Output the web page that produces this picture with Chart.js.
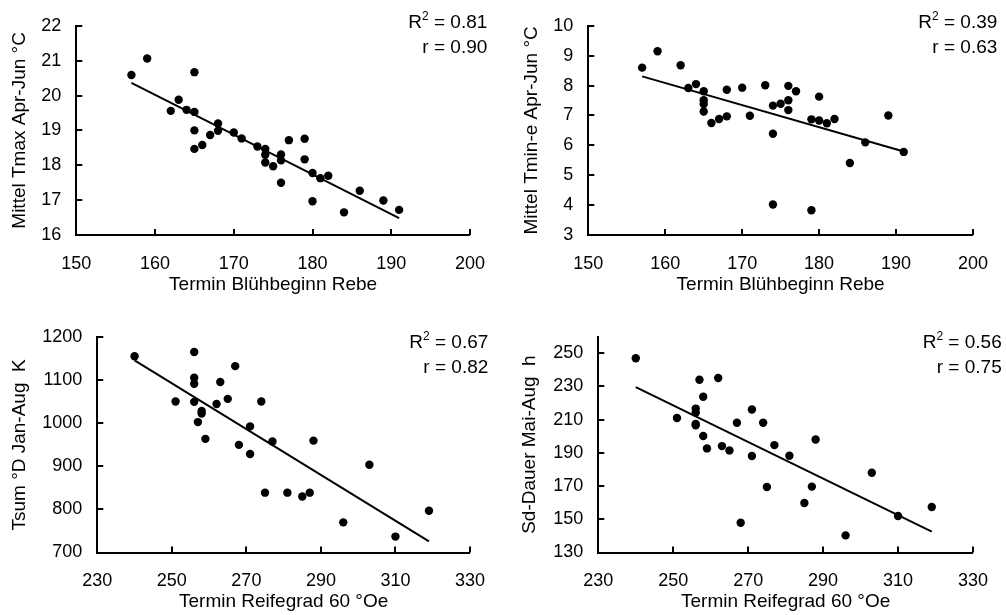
<!DOCTYPE html>
<html>
<head>
<meta charset="utf-8">
<script src="https://cdn.jsdelivr.net/npm/chart.js@4.4.1/dist/chart.umd.min.js"></script>
<style>
  body { margin: 0; background: #fff; }
  #wrap { position: relative; width: 1006px; height: 615px; }
  canvas { position: absolute; }
</style>
</head>
<body>
<div id="wrap">
  <canvas id="c1" width="503" height="308" style="left:0;top:0"></canvas>
  <canvas id="c2" width="503" height="308" style="left:503px;top:0"></canvas>
  <canvas id="c3" width="503" height="307" style="left:0;top:308px"></canvas>
  <canvas id="c4" width="503" height="307" style="left:503px;top:308px"></canvas>
</div>
<script>
// Termin Blühbeginn Rebe (Tag im Jahr) -> Tmax / Tmin-e
const bluehX1 = [157,159,165,163,162,164,165,168,168,165,167,170,171,165,166,173,174,174,174,175,176,176,176,177,179,179,180,180,181,182,184,186,189,191];
const tmaxY = [20.59,21.06,20.67,19.88,19.56,19.59,19.53,19.20,18.99,19.00,18.87,18.94,18.77,18.47,18.58,18.54,18.47,18.30,18.08,17.97,18.31,18.14,17.50,18.72,18.76,18.17,17.78,16.97,17.63,17.70,16.65,17.27,16.99,16.72];

const bluehX2 = [157,159,162,163,164,165,165,165,165,166,167,168,168,170,171,173,174,174,174,175,176,176,176,177,179,179,180,180,181,182,184,186,189,191];
const tminY = [8.60,9.15,8.68,7.92,8.05,7.81,7.51,7.38,7.13,6.75,6.88,7.86,6.97,7.93,6.99,8.01,7.33,6.39,4.02,7.39,7.99,7.51,7.18,7.81,6.87,3.83,7.63,6.83,6.74,6.88,5.41,6.10,7.00,5.78];

// Termin Reifegrad 60 °Oe -> Tsum / Sonnenscheindauer
const reifeX3 = [240,256,256,256,256,251,263,267,265,262,258,258,257,259,268,271,271,274,277,288,275,281,285,287,303,296,310,319];
const tsumY = [1156,1166,1106,1092,1050,1051,1096,1133,1057,1045,1029,1023,1003,964,950,993,929,1051,958,960,839,839,830,839,904,770,737,797];

const reifeX4 = [240,251,256,256,256,256,257,258,258,259,262,263,265,267,268,271,271,274,275,277,281,285,287,288,303,296,310,319];
const sdY = [247,211,216.7,214.3,207.4,206.6,234.1,223.8,200.2,192.7,235.1,194.1,191.5,208.2,147.9,216.1,188.1,208.2,169.5,194.7,188.3,159.8,169.7,198.1,178,140.3,152,157.4];

// Achsenticks
const ticksBlueh = [150,160,170,180,190,200];
const ticksReife = [230,250,270,290,310,330];
const ticksTmax = [16,17,18,19,20,21,22];
const ticksTmin = [3,4,5,6,7,8,9,10];
const ticksTsum = [700,800,900,1000,1100,1200];
const ticksSd = [130,150,170,190,210,230,250];

// Kennwerte
const statsR2 = ['0.81','0.39','0.67','0.56'];
const statsR = ['0.90','0.63','0.82','0.75'];

const FONT = "'Liberation Sans', Arial, sans-serif";

// Regressionsgerade aus den Punkten
function regression(xs, ys) {
    const n = xs.length;
    const mx = xs.reduce((a, b) => a + b, 0) / n;
    const my = ys.reduce((a, b) => a + b, 0) / n;
    let sxy = 0, sxx = 0;
    for (let i = 0; i < n; i++) {
        sxy += (xs[i] - mx) * (ys[i] - my);
        sxx += (xs[i] - mx) * (xs[i] - mx);
    }
    const b = sxy / sxx;
    const a = my - b * mx;
    const x0 = Math.min(...xs), x1 = Math.max(...xs);
    return [{x: x0, y: a + b * x0}, {x: x1, y: a + b * x1}];
}

// Ticks nach innen zeichnen
const insideTicks = {
    id: 'insideTicks',
    afterDraw(chart) {
        const {ctx, chartArea: a} = chart;
        const x = chart.scales.x, y = chart.scales.y;
        ctx.save();
        ctx.strokeStyle = '#000';
        ctx.lineWidth = 2;
        ctx.beginPath();
        x.ticks.forEach(t => {
            const px = Math.round(x.getPixelForValue(t.value));
            ctx.moveTo(px, a.bottom);
            ctx.lineTo(px, a.bottom - 6);
        });
        y.ticks.forEach(t => {
            const py = Math.round(y.getPixelForValue(t.value));
            ctx.moveTo(a.left, py);
            ctx.lineTo(a.left + 6, py);
        });
        ctx.stroke();
        ctx.restore();
    }
};

// R² und r oben rechts
const statsLabel = {
    id: 'statsLabel',
    afterDraw(chart, args, opts) {
        const ctx = chart.ctx;
        const right = opts.right, y1 = opts.y;
        ctx.save();
        ctx.fillStyle = '#000';
        ctx.textBaseline = 'alphabetic';
        ctx.textAlign = 'left';
        ctx.font = '19px ' + FONT;
        const rest = ' = ' + opts.r2;
        const wR = ctx.measureText('R').width;
        const wRest = ctx.measureText(rest).width;
        ctx.font = '12px ' + FONT;
        const w2 = ctx.measureText('2').width;
        let x = right - wR - w2 - wRest;
        ctx.font = '19px ' + FONT;
        ctx.fillText('R', x, y1);
        ctx.font = '12px ' + FONT;
        ctx.fillText('2', x + wR, y1 - 8);
        ctx.font = '19px ' + FONT;
        ctx.fillText(rest, x + wR + w2, y1);
        ctx.textAlign = 'right';
        ctx.fillText('r = ' + opts.r, right, y1 + 25);
        ctx.restore();
    }
};

function makePanel(id, xs, ys, p) {
    const canvas = document.getElementById(id);
    const W = canvas.width, H = canvas.height;
    const xTitleH = 61;
    return new Chart(canvas, {
        data: {
            datasets: [
                {
                    type: 'scatter',
                    data: xs.map((x, i) => ({x: x, y: ys[i]})),
                    backgroundColor: '#000',
                    borderWidth: 0,
                    pointRadius: 4.2,
                    pointHoverRadius: 4.2
                },
                {
                    type: 'line',
                    data: regression(xs, ys),
                    borderColor: '#000',
                    borderWidth: 2,
                    pointRadius: 0,
                    fill: false
                }
            ]
        },
        options: {
            responsive: false,
            animation: false,
            events: [],
            layout: {
                padding: {
                    left: 0,
                    top: p.top,
                    right: W - p.right,
                    bottom: H - p.bottom - xTitleH
                }
            },
            plugins: {
                legend: { display: false },
                tooltip: { enabled: false },
                statsLabel: { r2: p.r2, r: p.r, right: p.textRight, y: p.textY }
            },
            scales: {
                x: {
                    type: 'linear',
                    min: p.xTicks[0],
                    max: p.xTicks[p.xTicks.length - 1],
                    afterBuildTicks: s => { s.ticks = p.xTicks.map(v => ({value: v})); },
                    afterFit: s => { s.height = xTitleH; },
                    grid: { display: false, drawTicks: false },
                    border: { display: true, color: '#000', width: 2 },
                    ticks: {
                        color: '#000',
                        font: { family: FONT, size: 18 },
                        padding: 18,
                        autoSkip: false,
                        maxRotation: 0,
                        callback: v => String(v)
                    },
                    title: {
                        display: true,
                        text: p.xTitle,
                        color: '#000',
                        font: { family: FONT, size: 19 },
                        padding: { top: 0, bottom: 0 }
                    }
                },
                y: {
                    type: 'linear',
                    min: p.yMin,
                    max: p.yMax,
                    afterBuildTicks: s => { s.ticks = p.yTicks.map(v => ({value: v})); },
                    afterFit: s => { s.width = p.left; },
                    grid: { display: false, drawTicks: false },
                    border: { display: true, color: '#000', width: 2 },
                    ticks: {
                        color: '#000',
                        font: { family: FONT, size: 18 },
                        padding: 15,
                        autoSkip: false,
                        callback: v => String(v)
                    },
                    title: {
                        display: true,
                        text: p.yTitle,
                        color: '#000',
                        font: { family: FONT, size: 19 },
                        padding: { top: p.yTitlePad, bottom: 0 }
                    }
                }
            }
        },
        plugins: [insideTicks, statsLabel]
    });
}

makePanel('c1', bluehX1, tmaxY, {
    left: 76.3, right: 475.7, top: 19.5, bottom: 235,
    xTicks: ticksBlueh, yTicks: ticksTmax, yMin: 16, yMax: 22,
    xTitle: 'Termin Blühbeginn Rebe', yTitle: 'Mittel Tmax Apr-Jun °C', yTitlePad: 8.7,
    r2: statsR2[0], r: statsR[0], textRight: 487.3, textY: 28.3
});

makePanel('c2', bluehX2, tminY, {
    left: 85.3, right: 483.7, top: 19, bottom: 235,
    xTicks: ticksBlueh, yTicks: ticksTmin, yMin: 3, yMax: 10,
    xTitle: 'Termin Blühbeginn Rebe', yTitle: 'Mittel Tmin-e Apr-Jun °C', yTitlePad: 17.7,
    r2: statsR2[1], r: statsR[1], textRight: 494.3, textY: 28.3
});

makePanel('c3', reifeX3, tsumY, {
    left: 97.3, right: 476.7, top: 29.3, bottom: 244.5,
    xTicks: ticksReife, yTicks: ticksTsum, yMin: 700, yMax: 1200,
    xTitle: 'Termin Reifegrad 60 °Oe', yTitle: 'Tsum °D Jan-Aug  K', yTitlePad: 8.7,
    r2: statsR2[2], r: statsR[2], textRight: 488.3, textY: 40.3
});

makePanel('c4', reifeX4, sdY, {
    left: 95.3, right: 483.7, top: 28.7, bottom: 244.5,
    xTicks: ticksReife, yTicks: ticksSd, yMin: 130, yMax: 260,
    xTitle: 'Termin Reifegrad 60 °Oe', yTitle: 'Sd-Dauer Mai-Aug  h', yTitlePad: 15.7,
    r2: statsR2[3], r: statsR[3], textRight: 498.7, textY: 40.3
});
</script>
</body>
</html>
